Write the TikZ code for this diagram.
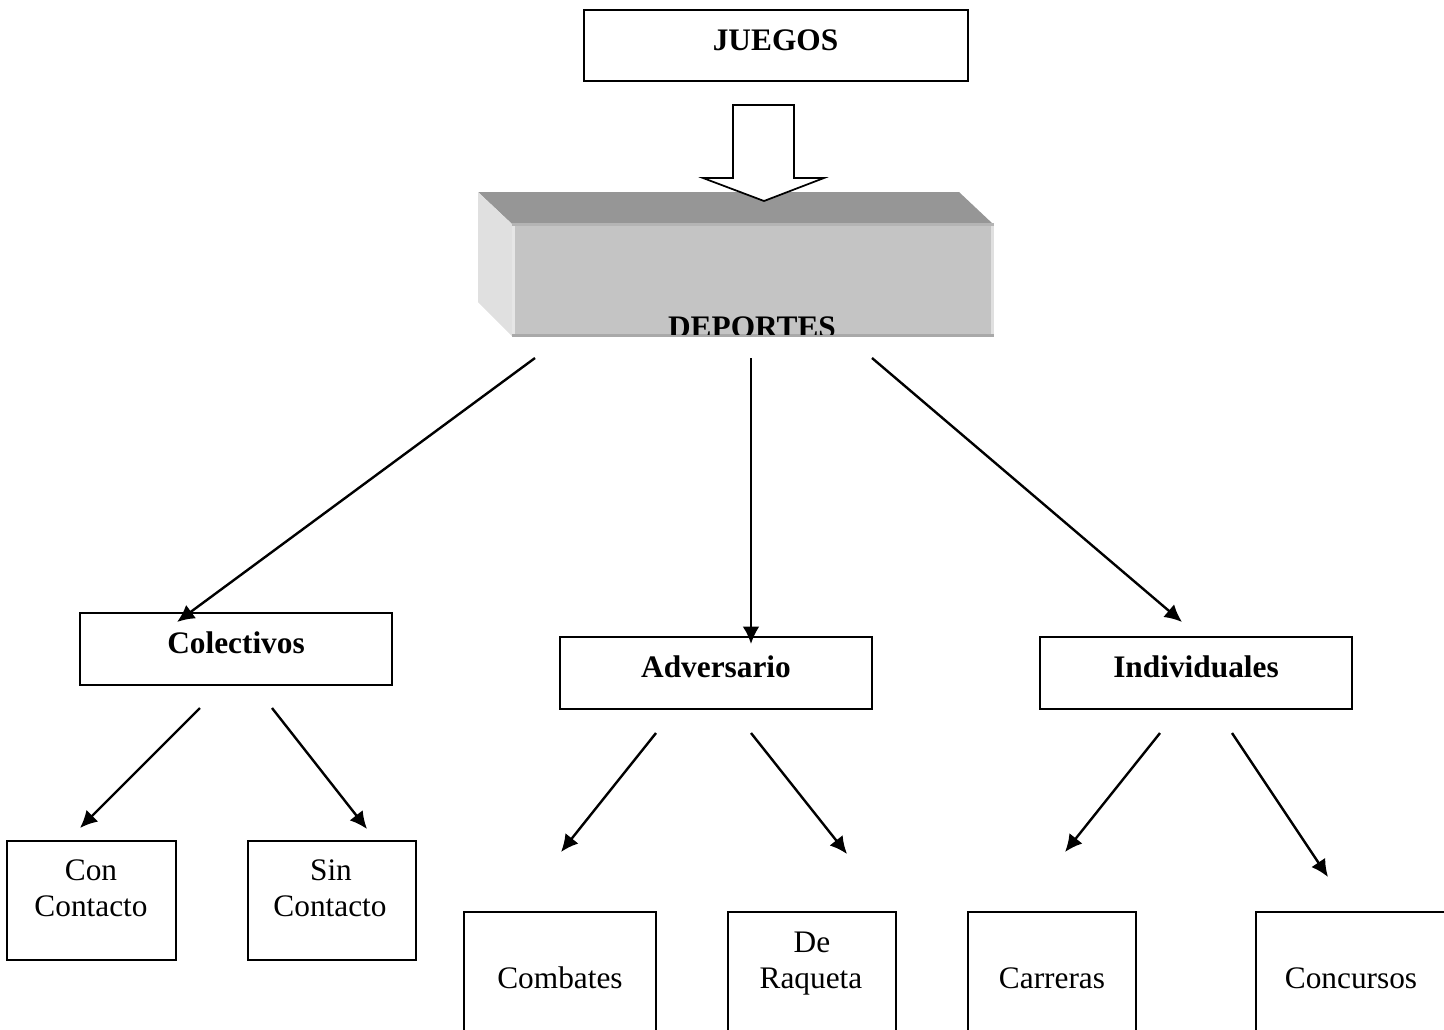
\documentclass[tikz,border=0pt]{standalone}
\usepackage{fontspec}
\setmainfont{Liberation Serif}
\usetikzlibrary{arrows.meta}
\definecolor{topgray}{HTML}{969696}
\definecolor{sidegray}{HTML}{E0E0E0}
\definecolor{frontgray}{HTML}{C4C4C4}
\definecolor{edgegray}{HTML}{A9A9A9}
\begin{document}
\begin{tikzpicture}[x=0.75pt,y=-0.75pt,
  box/.style={draw, line width=1.6pt, rectangle, inner sep=0pt},
  conn/.style={line width=1.8pt, -{Latex[length=13pt,width=12.5pt]}},
  lbl/.style={font=\fontsize{23.5}{27}\selectfont, inner sep=0pt, anchor=base, align=center},
  blbl/.style={lbl, font=\fontsize{23.5}{27}\selectfont\bfseries}]
\useasboundingbox (0,0) rectangle (1444,1029);
\clip (0,0) rectangle (1444,1029);

% JUEGOS
\node[box, minimum width=288pt, minimum height=53.25pt] (juegos) at (776,45.5) {};
\node[blbl] (tjuegos) at (775.5,50) {JUEGOS};

% DEPORTES 3D block
\fill[topgray] (478,192) -- (959,192) -- (993,224) -- (512,224) -- cycle;
\fill[sidegray] (478,192) -- (512,224) -- (512,336) -- (478,302) -- cycle;
\node[fill=frontgray, inner sep=0pt, minimum width=360.75pt, minimum height=84pt] (deportes) at (752.5,280) {};
\fill[sidegray!80!white] (512,224) rectangle (515,336);
\fill[sidegray] (991,224) rectangle (994,336);
\fill[edgegray] (512,334) rectangle (994,337);
\fill[edgegray!60!frontgray] (512,223) rectangle (994,225.5);
\begin{scope}
  \clip (512,224) rectangle (994,334.5);
  \node[blbl] (tdeportes) at (752,337) {DEPORTES};
\end{scope}

% block arrow JUEGOS -> DEPORTES
\draw[line width=1.3pt, fill=white, line join=miter]
  (733,105) -- (794,105) -- (794,178) -- (824,178) -- (764,201) -- (703,178) -- (733,178) -- cycle;

% level 2 boxes
\node[box, minimum width=234pt, minimum height=54pt] (colectivos) at (236,649) {};
\node[blbl] (tcolectivos) at (236,653) {Colectivos};
\node[box, minimum width=234pt, minimum height=54pt] (adversario) at (716,673) {};
\node[blbl] (tadversario) at (716,677) {Adversario};
\node[box, minimum width=234pt, minimum height=54pt] (individuales) at (1196,673) {};
\node[blbl] (tindividuales) at (1196,677) {Individuales};

% level 3 boxes
\node[box, minimum width=126.75pt, minimum height=89.25pt] (con) at (91.5,900.5) {};
\node[lbl] (tcon1) at (91,880) {Con};
\node[lbl] (tcon2) at (91,916) {Contacto};
\node[box, minimum width=126pt, minimum height=89.25pt] (sin) at (332,900.5) {};
\node[lbl] (tsin1) at (331,880) {Sin};
\node[lbl] (tsin2) at (330,916) {Contacto};

\node[box, minimum width=144pt, minimum height=120pt] (combates) at (560,992) {};
\node[lbl] (tcombates) at (560,988) {Combates};
\node[box, minimum width=126pt, minimum height=120pt] (raqueta) at (812,992) {};
\node[lbl] (traqueta1) at (812,952) {De};
\node[lbl] (traqueta2) at (811,988) {Raqueta};
\node[box, minimum width=126pt, minimum height=120pt] (carreras) at (1052,992) {};
\node[lbl] (tcarreras) at (1052,988) {Carreras};
\node[box, minimum width=144pt, minimum height=120pt] (concursos) at (1352,992) {};
\node[lbl] (tconcursos) at (1351,988) {Concursos};

% connector end points
\coordinate (d1) at (535,358);
\coordinate (d2) at (751,358);
\coordinate (d3) at (872,358);
\coordinate (e1) at (177,622);
\coordinate (e2) at (751,644);
\coordinate (e3) at (1182,622);
\coordinate (c1) at (200,708);
\coordinate (c2) at (272,708);
\coordinate (ce1) at (80,828);
\coordinate (ce2) at (367,829);
\coordinate (a1) at (656,733);
\coordinate (a2) at (751,733);
\coordinate (ae1) at (561,852);
\coordinate (ae2) at (847,854);
\coordinate (i1) at (1160,733);
\coordinate (i2) at (1232,733);
\coordinate (ie1) at (1065,852);
\coordinate (ie2) at (1328,877);

\draw[conn] (d1) -- (e1);
\draw[conn] (d2) -- (e2);
\draw[conn] (d3) -- (e3);
\draw[conn] (c1) -- (ce1);
\draw[conn] (c2) -- (ce2);
\draw[conn] (a1) -- (ae1);
\draw[conn] (a2) -- (ae2);
\draw[conn] (i1) -- (ie1);
\draw[conn] (i2) -- (ie2);
\end{tikzpicture}
\end{document}
